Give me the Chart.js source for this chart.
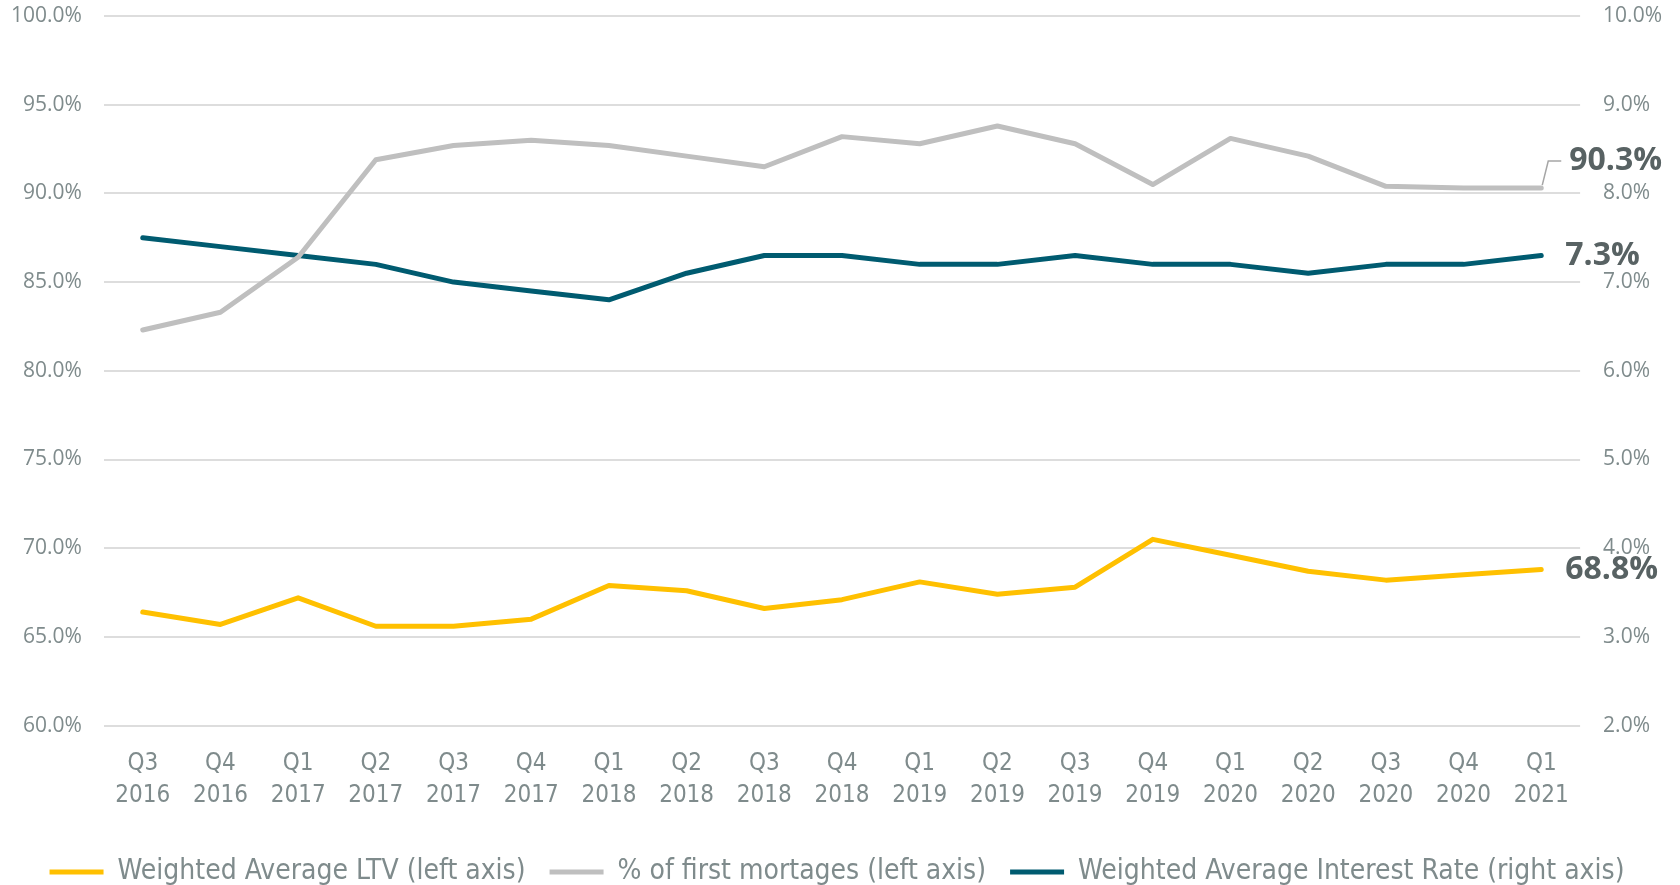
<!DOCTYPE html>
<html>
<head>
<meta charset="utf-8">
<title>LTV and interest rate</title>
<script src="https://cdn.jsdelivr.net/npm/chart.js@4/dist/chart.umd.min.js"></script>
<style>
  html, body { margin: 0; padding: 0; background: #fff; }
  #wrap { width: 1680px; height: 885px; }
</style>
</head>
<body>
<div id="wrap"><canvas id="chart" width="1680" height="885"></canvas></div>
<script>
// quarters on the x axis (two-line labels)
const quarters = [
  ['Q3', '2016'], ['Q4', '2016'], ['Q1', '2017'], ['Q2', '2017'], ['Q3', '2017'],
  ['Q4', '2017'], ['Q1', '2018'], ['Q2', '2018'], ['Q3', '2018'], ['Q4', '2018'],
  ['Q1', '2019'], ['Q2', '2019'], ['Q3', '2019'], ['Q4', '2019'], ['Q1', '2020'],
  ['Q2', '2020'], ['Q3', '2020'], ['Q4', '2020'], ['Q1', '2021']
];

// left axis series (%)
const ltv = [66.4, 65.7, 67.2, 65.6, 65.6, 66.0, 67.9, 67.6, 66.6, 67.1,
             68.1, 67.4, 67.8, 70.5, 69.6, 68.7, 68.2, 68.5, 68.8];
const firstMortgages = [82.3, 83.3, 86.4, 91.9, 92.7, 93.0, 92.7, 92.1, 91.5, 93.2,
                        92.8, 93.8, 92.8, 90.5, 93.1, 92.1, 90.4, 90.3, 90.3];
// right axis series (%)
const interestRate = [7.5, 7.4, 7.3, 7.2, 7.0, 6.9, 6.8, 7.1, 7.3, 7.3,
                      7.2, 7.2, 7.3, 7.2, 7.2, 7.1, 7.2, 7.2, 7.3];

// axis ranges
const leftMin = 60, leftMax = 100, leftStep = 5;
const rightMin = 2, rightMax = 10, rightStep = 1;

const legendNames = [
  'Weighted Average LTV (left axis)',
  '% of first mortages (left axis)',
  'Weighted Average Interest Rate (right axis)'
];

const YELLOW = '#FFC000';
const GREY = '#BFBFBF';
const TEAL = '#005B70';
const TEXT = '#7F8B8C';
const LABEL = '#586263';
const NARROW = '"Liberation Sans Narrow", "DejaVu Sans Condensed", sans-serif';

// last value labels at the end of each line
const endLabels = {
  id: 'endLabels',
  afterDatasetsDraw(chart) {
    const ctx = chart.ctx;
    ctx.save();
    ctx.font = 'bold 32px "Open Sans", sans-serif';
    ctx.fillStyle = LABEL;
    ctx.textBaseline = 'middle';
    ctx.textAlign = 'left';
    chart.data.datasets.forEach((ds, i) => {
      const meta = chart.getDatasetMeta(i);
      const last = meta.data[meta.data.length - 1];
      const val = ds.data[ds.data.length - 1];
      const txt = val.toFixed(1) + '%';
      if (i === 1) {
        // small leader line for the grey series
        ctx.strokeStyle = '#A6A6A6';
        ctx.lineWidth = 1.5;
        ctx.beginPath();
        ctx.moveTo(last.x + 1, last.y - 3);
        ctx.lineTo(last.x + 7, last.y - 27);
        ctx.lineTo(last.x + 20, last.y - 27);
        ctx.stroke();
        ctx.fillText(txt, last.x + 28, last.y - 27);
      } else {
        ctx.fillText(txt, last.x + 24, last.y);
      }
    });
    ctx.restore();
  }
};

const lineStyle = {
  borderWidth: 5,
  pointRadius: 0,
  pointHoverRadius: 0,
  tension: 0,
  fill: false,
  borderCapStyle: 'round',
  borderJoinStyle: 'round'
};

// keep the top gridline close to the canvas edge
const tightY = scale => { scale.paddingTop = 16; scale.paddingBottom = 14; };

new Chart(document.getElementById('chart').getContext('2d'), {
  type: 'line',
  data: {
    labels: quarters,
    datasets: [
      Object.assign({ label: legendNames[0], data: ltv, borderColor: YELLOW, backgroundColor: YELLOW, yAxisID: 'y' }, lineStyle),
      Object.assign({ label: legendNames[1], data: firstMortgages, borderColor: GREY, backgroundColor: GREY, yAxisID: 'y' }, lineStyle),
      Object.assign({ label: legendNames[2], data: interestRate, borderColor: TEAL, backgroundColor: TEAL, yAxisID: 'y1' }, lineStyle)
    ]
  },
  options: {
    responsive: false,
    animation: false,
    layout: { padding: { left: -11, right: -5, top: 0, bottom: -11 } },
    plugins: {
      tooltip: { enabled: false },
      legend: {
        position: 'bottom',
        labels: {
          usePointStyle: true,
          pointStyle: 'line',
          pointStyleWidth: 54,
          boxHeight: 6,
          padding: 24,
          color: TEXT,
          font: { family: NARROW, size: 28 }
        }
      }
    },
    scales: {
      x: {
        offset: true,
        grid: { display: false },
        border: { display: false },
        afterFit: scale => { scale.height += 8; },
        ticks: {
          autoSkip: false,
          maxRotation: 0,
          padding: 15,
          color: TEXT,
          font: { family: NARROW, size: 24, lineHeight: 1.3 }
        }
      },
      y: {
        position: 'left',
        min: leftMin,
        max: leftMax,
        grid: { color: '#DDDDDD', lineWidth: 2, drawTicks: false },
        border: { display: false },
        afterFit: tightY,
        ticks: {
          stepSize: leftStep,
          padding: 22,
          color: TEXT,
          font: { family: '"Open Sans", sans-serif', size: 21 },
          callback: v => v.toFixed(1) + '%'
        }
      },
      y1: {
        position: 'right',
        min: rightMin,
        max: rightMax,
        grid: { display: false, drawTicks: false },
        border: { display: false },
        afterFit: tightY,
        ticks: {
          stepSize: rightStep,
          padding: 23,
          color: TEXT,
          font: { family: '"Open Sans", sans-serif', size: 21 },
          callback: v => v.toFixed(1) + '%'
        }
      }
    }
  },
  plugins: [endLabels]
});
</script>
</body>
</html>
